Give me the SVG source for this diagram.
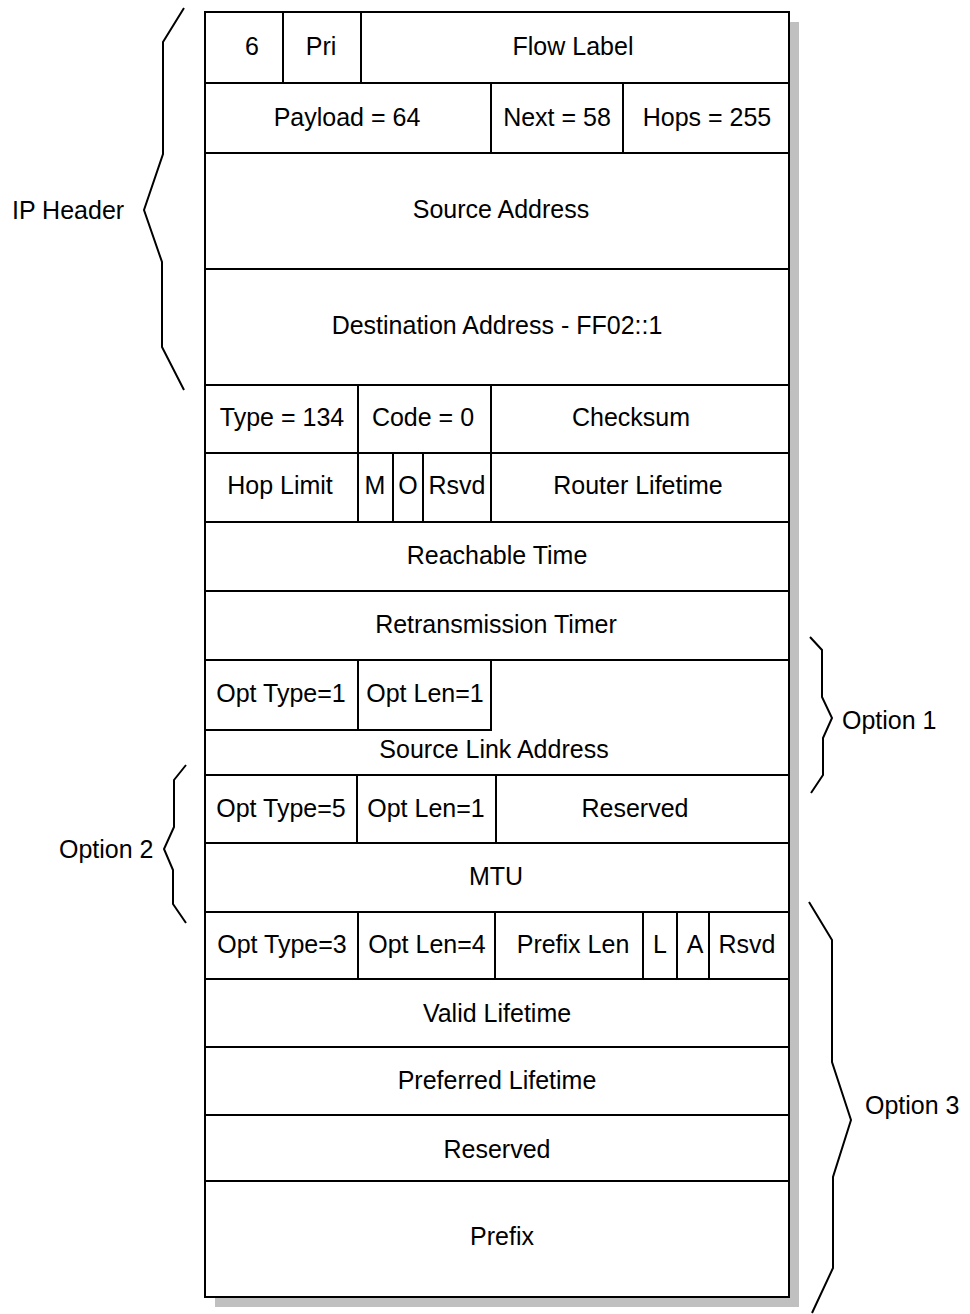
<svg xmlns="http://www.w3.org/2000/svg" width="970" height="1314" viewBox="0 0 970 1314">
<style>
.c{fill:#fff;stroke:#000;stroke-width:2}
.t{font-family:"Liberation Sans",Arial,sans-serif;font-size:25px;fill:#000;text-anchor:middle}
.l{font-family:"Liberation Sans",Arial,sans-serif;font-size:25px;fill:#000}
.b{fill:none;stroke:#000;stroke-width:2;stroke-linejoin:miter}
</style>
<rect x="215" y="22" width="584" height="1285" fill="#c0c0c0"/>
<g id="row-ipv6-1">
<g id="version"><rect class="c" x="205" y="12" width="78" height="71"/><text class="t" x="252" y="55">6</text></g>
<g id="pri"><rect class="c" x="283" y="12" width="78" height="71"/><text class="t" x="321" y="55">Pri</text></g>
<g id="flow-label"><rect class="c" x="361" y="12" width="428" height="71"/><text class="t" x="573" y="55">Flow Label</text></g>
</g>
<g id="row-ipv6-2">
<g id="payload"><rect class="c" x="205" y="83" width="286" height="70"/><text class="t" x="347" y="126">Payload = 64</text></g>
<g id="next"><rect class="c" x="491" y="83" width="132" height="70"/><text class="t" x="557" y="126">Next = 58</text></g>
<g id="hops"><rect class="c" x="623" y="83" width="166" height="70"/><text class="t" x="707" y="126">Hops = 255</text></g>
</g>
<g id="source-address"><rect class="c" x="205" y="153" width="584" height="116"/><text class="t" x="501" y="218">Source Address</text></g>
<g id="destination-address"><rect class="c" x="205" y="269" width="584" height="116"/><text class="t" x="497" y="334">Destination Address - FF02::1</text></g>
<g id="row-icmp-1">
<g id="type"><rect class="c" x="205" y="385" width="153" height="68"/><text class="t" x="282" y="426">Type = 134</text></g>
<g id="code"><rect class="c" x="358" y="385" width="133" height="68"/><text class="t" x="423" y="426">Code = 0</text></g>
<g id="checksum"><rect class="c" x="491" y="385" width="298" height="68"/><text class="t" x="631" y="426">Checksum</text></g>
</g>
<g id="row-icmp-2">
<g id="hop-limit"><rect class="c" x="205" y="453" width="153" height="69"/><text class="t" x="280" y="494">Hop Limit</text></g>
<g id="m-flag"><rect class="c" x="358" y="453" width="35" height="69"/><text class="t" x="375" y="494">M</text></g>
<g id="o-flag"><rect class="c" x="393" y="453" width="30" height="69"/><text class="t" x="408" y="494">O</text></g>
<g id="rsvd-1"><rect class="c" x="423" y="453" width="68" height="69"/><text class="t" x="457" y="494">Rsvd</text></g>
<g id="router-lifetime"><rect class="c" x="491" y="453" width="298" height="69"/><text class="t" x="638" y="494">Router Lifetime</text></g>
</g>
<g id="reachable-time"><rect class="c" x="205" y="522" width="584" height="69"/><text class="t" x="497" y="564">Reachable Time</text></g>
<g id="retransmission-timer"><rect class="c" x="205" y="591" width="584" height="69"/><text class="t" x="496" y="633">Retransmission Timer</text></g>
<g id="option-1">
<rect class="c" x="205" y="660" width="584" height="115"/>
<g id="opt-type-1"><rect class="c" x="205" y="660" width="153" height="70"/><text class="t" x="281" y="702">Opt Type=1</text></g>
<g id="opt-len-1"><rect class="c" x="358" y="660" width="133" height="70"/><text class="t" x="425" y="702">Opt Len=1</text></g>
<text class="t" x="494" y="758">Source Link Address</text>
</g>
<g id="row-option-2">
<g id="opt-type-5"><rect class="c" x="205" y="775" width="152" height="68"/><text class="t" x="281" y="817">Opt Type=5</text></g>
<g id="opt-len-1b"><rect class="c" x="357" y="775" width="139" height="68"/><text class="t" x="426" y="817">Opt Len=1</text></g>
<g id="reserved-1"><rect class="c" x="496" y="775" width="293" height="68"/><text class="t" x="635" y="817">Reserved</text></g>
</g>
<g id="mtu"><rect class="c" x="205" y="843" width="584" height="69"/><text class="t" x="496" y="885">MTU</text></g>
<g id="row-option-3">
<g id="opt-type-3"><rect class="c" x="205" y="912" width="153" height="67"/><text class="t" x="282" y="953">Opt Type=3</text></g>
<g id="opt-len-4"><rect class="c" x="358" y="912" width="137" height="67"/><text class="t" x="427" y="953">Opt Len=4</text></g>
<g id="prefix-len"><rect class="c" x="495" y="912" width="148" height="67"/><text class="t" x="573" y="953">Prefix Len</text></g>
<g id="l-flag"><rect class="c" x="643" y="912" width="34" height="67"/><text class="t" x="660" y="953">L</text></g>
<g id="a-flag"><rect class="c" x="677" y="912" width="32" height="67"/><text class="t" x="695" y="953">A</text></g>
<g id="rsvd-2"><rect class="c" x="709" y="912" width="80" height="67"/><text class="t" x="747" y="953">Rsvd</text></g>
</g>
<g id="valid-lifetime"><rect class="c" x="205" y="979" width="584" height="68"/><text class="t" x="497" y="1022">Valid Lifetime</text></g>
<g id="preferred-lifetime"><rect class="c" x="205" y="1047" width="584" height="68"/><text class="t" x="497" y="1089">Preferred Lifetime</text></g>
<g id="reserved-2"><rect class="c" x="205" y="1115" width="584" height="66"/><text class="t" x="497" y="1158">Reserved</text></g>
<g id="prefix"><rect class="c" x="205" y="1181" width="584" height="116"/><text class="t" x="502" y="1245">Prefix</text></g>
<g id="braces">
<g id="brace-ip-header"><polyline class="b" points="184,8 163,42 163,154 144,210 162,262 162,347 184,390"/><text class="l" x="12" y="219">IP Header</text></g>
<g id="brace-option-1"><polyline class="b" points="810,637 822,650 822,697 832,718 823,738 823,775 811,793"/><text class="l" x="842" y="729">Option 1</text></g>
<g id="brace-option-2"><polyline class="b" points="186,765 174,780 174,827 164,849 173,870 173,904 186,923"/><text class="l" x="59" y="858">Option 2</text></g>
<g id="brace-option-3"><polyline class="b" points="809,902 832,940 832,1062 851,1120 833,1177 833,1268 812,1313"/><text class="l" x="865" y="1114">Option 3</text></g>
</g>
</svg>
